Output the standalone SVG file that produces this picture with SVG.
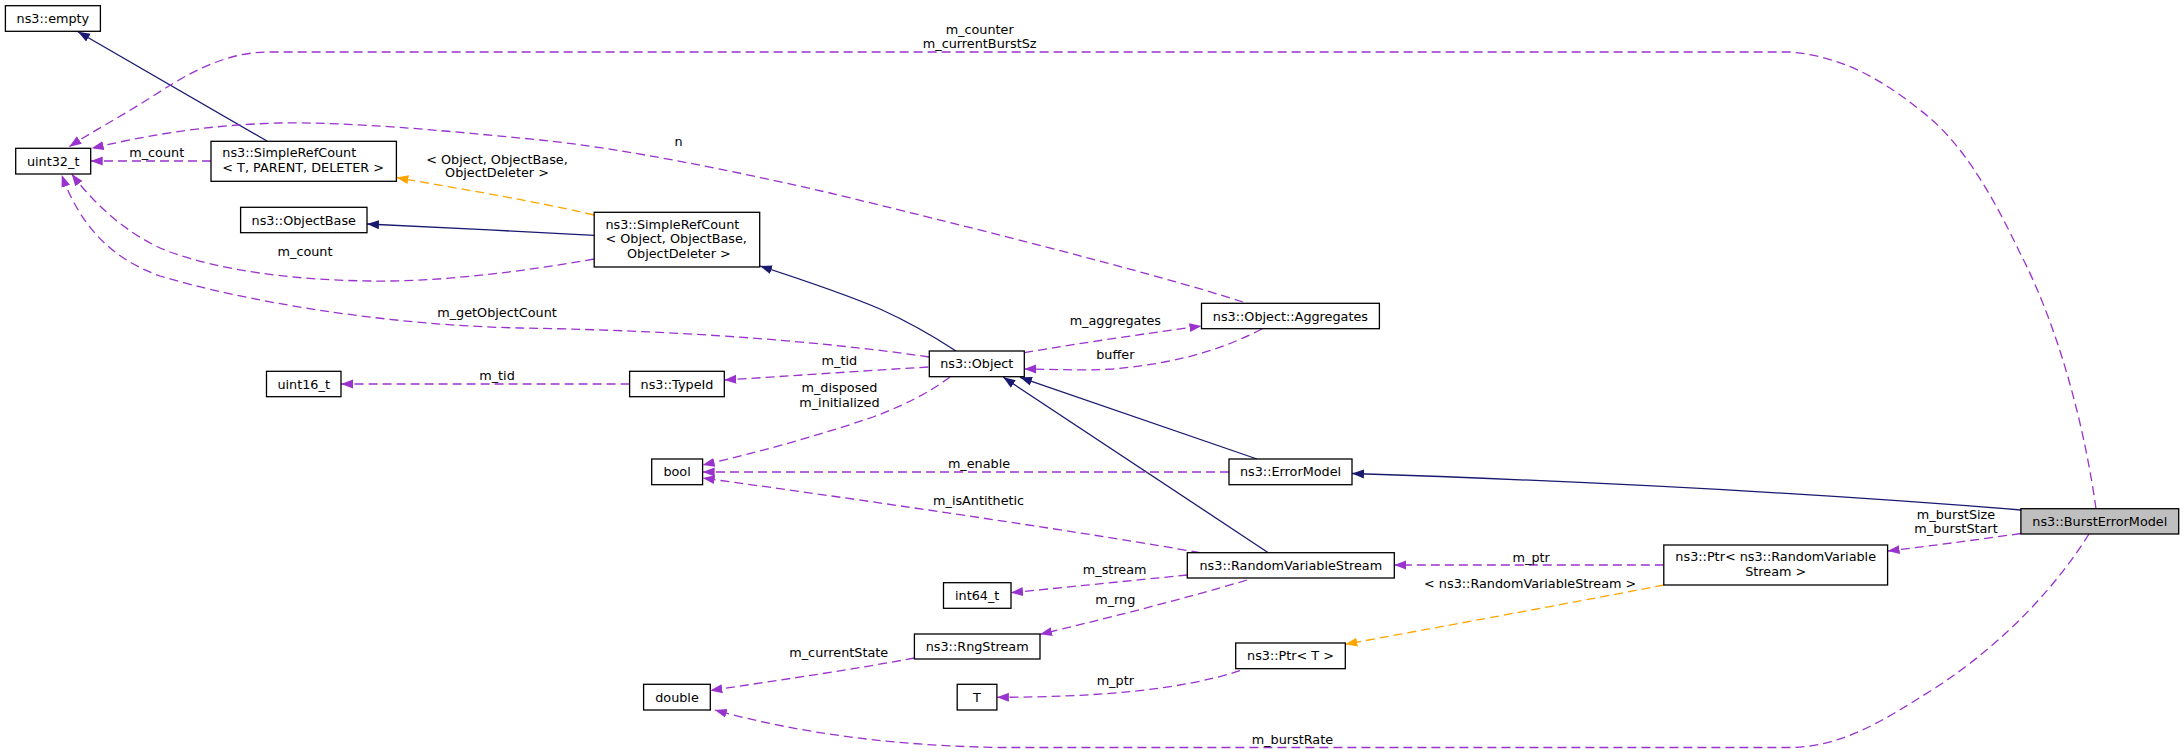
<svg xmlns="http://www.w3.org/2000/svg" width="2184" height="753" viewBox="0 0 2184 753">
<style>
text{font-family:"DejaVu Sans","Liberation Sans",sans-serif;font-size:12.8px;fill:#000}
.m{text-anchor:middle}
.node rect{fill:#fff;stroke:#000;stroke-width:1.3}
.node rect.root{fill:#bfbfbf}
.inh{fill:none;stroke:#191970;stroke-width:1.3}
.use{fill:none;stroke:#9a32cd;stroke-width:1.3;stroke-dasharray:9,5}
.tpl{fill:none;stroke:#ffa500;stroke-width:1.3;stroke-dasharray:9,5}
.inh{marker-end:url(#aInh)}
.use{marker-end:url(#aUse)}
.tpl{marker-end:url(#aTpl)}
</style>
<defs>
<marker id="aInh" markerUnits="userSpaceOnUse" markerWidth="14" markerHeight="12" refX="12" refY="5" orient="auto"><path d="M0,0.5L12,5L0,9.5z" fill="#191970"/></marker>
<marker id="aUse" markerUnits="userSpaceOnUse" markerWidth="14" markerHeight="12" refX="12" refY="5" orient="auto"><path d="M0,0.5L12,5L0,9.5z" fill="#9a32cd"/></marker>
<marker id="aTpl" markerUnits="userSpaceOnUse" markerWidth="14" markerHeight="12" refX="12" refY="5" orient="auto"><path d="M0,0.5L12,5L0,9.5z" fill="#ffa500"/></marker>
</defs>
<rect width="2184" height="753" fill="#fff"/>
<g id="edges">
<path class="inh" d="M267,141 L78,31.7"/>
<path class="use" d="M211,161 L90.7,161"/>
<text class="m" x="156.7" y="157.2">m_count</text>
<path class="tpl" d="M594,215 C530,200 460,189 396.4,177.5"/>
<text class="m" x="497" y="163.5">&lt; Object, ObjectBase,</text>
<text class="m" x="497" y="177.3">ObjectDeleter &gt;</text>
<path class="inh" d="M594,235.3 C520,231 440,228 367,224"/>
<path class="use" d="M594,259 C520,272 440,282 370,281 C290,280 220,270 170,252 C130,237 95,205 71.7,174"/>
<text class="m" x="305" y="256.2">m_count</text>
<path class="use" d="M929,357 C800,338 650,330 520,328 C380,325 240,300 160,276 C110,258 80,225 61.7,175"/>
<text class="m" x="497" y="317.2">m_getObjectCount</text>
<path class="use" d="M1243,302 C1150,272 950,222 830,193 C730,170 620,148 540,140 C440,130 350,122 280,123 C200,125 140,137 91.7,148.3"/>
<text class="m" x="678.6" y="145.5">n</text>
<path class="use" d="M2096,508.7 C2085,430 2060,330 2020,253 C1990,190 1960,140 1920,110 C1880,78 1840,56 1790,52 L270,52 C225,52 190,72 150,98 C120,117 90,133 69.3,146.7"/>
<text class="m" x="979.7" y="33.5">m_counter</text>
<text class="m" x="979.7" y="47.8">m_currentBurstSz</text>
<path class="use" d="M1024.3,352.7 C1080,343 1150,333 1201.5,326"/>
<text class="m" x="1115.3" y="325.2">m_aggregates</text>
<path class="use" d="M1262,329 C1230,345 1190,362 1113,369 C1080,371 1050,369 1024.3,369"/>
<text class="m" x="1115.3" y="358.5">buffer</text>
<path class="inh" d="M956,351 C930,334 900,318 880,309 C840,292 800,279 760,266"/>
<path class="use" d="M629.6,384 L341,384"/>
<text class="m" x="497" y="380.2">m_tid</text>
<path class="use" d="M928.3,367 C860,371 790,376 724.3,380"/>
<text class="m" x="839.4" y="364.5">m_tid</text>
<path class="use" d="M950,377 C930,392 905,405 873,417 C820,435 760,452 702.6,465"/>
<text class="m" x="839.4" y="391.8">m_disposed</text>
<text class="m" x="839.4" y="406.8">m_initialized</text>
<path class="inh" d="M1257,459 L1020,377.3"/>
<path class="inh" d="M1268.3,552.7 L1003.3,377.3"/>
<path class="use" d="M1229,472 L702.6,472"/>
<text class="m" x="979" y="468">m_enable</text>
<path class="use" d="M1200,552.7 C1100,535 900,505 702.6,478"/>
<text class="m" x="978.6" y="505.2">m_isAntithetic</text>
<path class="inh" d="M2021,510 C1800,492 1550,480 1352,473.5"/>
<path class="use" d="M1187.3,575 L1011,592.7"/>
<text class="m" x="1114.7" y="573.5">m_stream</text>
<path class="use" d="M1247,580 C1180,600 1100,620 1040,634.3"/>
<text class="m" x="1115.3" y="603.5">m_rng</text>
<path class="use" d="M914.4,658 C850,670 780,680 710.3,690.5"/>
<text class="m" x="838.7" y="657.2">m_currentState</text>
<path class="use" d="M1240,670.7 C1180,690 1100,697 996.9,697.3"/>
<text class="m" x="1115.3" y="684.5">m_ptr</text>
<path class="use" d="M1663.8,565 L1394.3,565"/>
<text class="m" x="1531.2" y="561.5">m_ptr</text>
<path class="tpl" d="M1664,585 C1560,605 1450,625 1345.3,644.3"/>
<text class="m" x="1530.2" y="587.8">&lt; ns3::RandomVariableStream &gt;</text>
<path class="use" d="M2020.9,533.5 C1975,540 1930,546 1887.6,551"/>
<text class="m" x="1956" y="519.2">m_burstSize</text>
<text class="m" x="1956" y="533.2">m_burstStart</text>
<path class="use" d="M2089,534 C2060,580 2010,640 1932,690 C1880,723 1840,747 1790,747.5 L1000,747.5 C900,746 800,734 714.8,710"/>
<text class="m" x="1292.4" y="743.8">m_burstRate</text>
</g>
<g id="n_empty" class="node"><rect x="5.4" y="5.7" width="95" height="25.6"/><text class="m" x="52.9" y="23">ns3::empty</text></g>
<g id="n_uint32" class="node"><rect x="15.7" y="148.3" width="75" height="25.7"/><text class="m" x="53.2" y="165.7">uint32_t</text></g>
<g id="n_src_t" class="node"><rect x="211" y="141.3" width="185.4" height="40"/><text x="222.3" y="157.2">ns3::SimpleRefCount</text><text x="222.3" y="172.2">&lt; T, PARENT, DELETER &gt;</text></g>
<g id="n_objectbase" class="node"><rect x="240.6" y="207.3" width="126.4" height="25.4"/><text class="m" x="303.8" y="224.5">ns3::ObjectBase</text></g>
<g id="n_src_obj" class="node"><rect x="594.2" y="212.3" width="165.5" height="54.7"/><text x="605.4" y="228.8">ns3::SimpleRefCount</text><text x="605.4" y="243.2">&lt; Object, ObjectBase,</text><text class="m" x="678.9" y="257.8">ObjectDeleter &gt;</text></g>
<g id="n_object" class="node"><rect x="929.3" y="351" width="95" height="25.7"/><text class="m" x="976.8" y="368.3">ns3::Object</text></g>
<g id="n_aggregates" class="node"><rect x="1201.5" y="303.3" width="177.9" height="25.4"/><text class="m" x="1290.4" y="320.5">ns3::Object::Aggregates</text></g>
<g id="n_uint16" class="node"><rect x="266.5" y="371.3" width="74.5" height="25.4"/><text class="m" x="303.7" y="388.5">uint16_t</text></g>
<g id="n_typeid" class="node"><rect x="629.6" y="371.3" width="94.7" height="25.4"/><text class="m" x="677" y="388.5">ns3::TypeId</text></g>
<g id="n_bool" class="node"><rect x="651.7" y="459" width="50.9" height="25.7"/><text class="m" x="677.1" y="476.3">bool</text></g>
<g id="n_errormodel" class="node"><rect x="1229" y="459" width="123" height="25.7"/><text class="m" x="1290.5" y="476.3">ns3::ErrorModel</text></g>
<g id="n_rvs" class="node"><rect x="1187.3" y="552.7" width="207" height="25.3"/><text class="m" x="1290.8" y="569.8">ns3::RandomVariableStream</text></g>
<g id="n_int64" class="node"><rect x="943.5" y="582.7" width="67.5" height="25.6"/><text class="m" x="977.2" y="600">int64_t</text></g>
<g id="n_rngstream" class="node"><rect x="914.4" y="634" width="125.6" height="25"/><text class="m" x="977.2" y="651">ns3::RngStream</text></g>
<g id="n_double" class="node"><rect x="643.6" y="684.3" width="66.7" height="25.7"/><text class="m" x="677" y="701.6">double</text></g>
<g id="n_T" class="node"><rect x="957.2" y="684.3" width="39.7" height="25.7"/><text class="m" x="977" y="701.6">T</text></g>
<g id="n_ptr_t" class="node"><rect x="1235.7" y="643" width="109.6" height="25.7"/><text class="m" x="1290.5" y="660.3">ns3::Ptr&lt; T &gt;</text></g>
<g id="n_ptr_rvs" class="node"><rect x="1663.8" y="545" width="223.8" height="40"/><text class="m" x="1775.7" y="561.2">ns3::Ptr&lt; ns3::RandomVariable</text><text class="m" x="1775.7" y="575.8">Stream &gt;</text></g>
<g id="n_burst" class="node"><rect class="root" x="2020.9" y="508.7" width="157.8" height="25.3"/><text class="m" x="2099.8" y="525.8">ns3::BurstErrorModel</text></g>
</svg>
